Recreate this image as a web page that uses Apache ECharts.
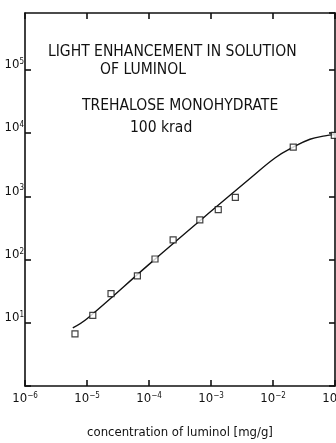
<!DOCTYPE html>
<html>
<head>
<meta charset="utf-8">
<script src="https://cdn.jsdelivr.net/npm/echarts@6/dist/echarts.min.js"></script>
<style>html,body{margin:0;padding:0;background:#fff}#c{width:336px;height:443px}</style>
</head>
<body>
<div id="c"></div>
<script>
// measured points (open squares)
const concentration = [6.4e-6, 1.24e-5, 2.44e-5, 6.5e-5, 1.25e-4, 2.45e-4, 6.6e-4, 1.31e-3, 2.47e-3, 2.12e-2, 9.75e-2];
const lightIntensity = [6.7, 13.1, 29, 55, 102, 205, 424, 615, 963, 5990, 9240];
// fitted curve
const curveConc = [5.9e-6, 1e-5, 1e-4, 1e-3, 4.3e-3, 1.09e-2, 2.12e-2, 3.95e-2, 6.9e-2, 9.75e-2];
const curveIntensity = [8.3, 11.6, 84, 580, 1930, 4080, 5990, 8000, 9040, 9460];
// tick labels (exponents of ten)
const xTickExponents = ['-6', '-5', '-4', '-3', '-2', '-1'];
const yTickExponents = ['1', '2', '3', '4', '5'];
const titleLines = ['LIGHT ENHANCEMENT IN SOLUTION', 'OF LUMINOL', 'TREHALOSE MONOHYDRATE', '100 krad'];
const xAxisTitle = 'concentration of luminol [mg/g]';

const FONT = '"Liberation Sans Narrow", "DejaVu Sans Condensed", "Liberation Sans", sans-serif';
const chart = echarts.init(document.getElementById('c'), null, {renderer: 'canvas'});

function expOf(v) { return Math.round(Math.log10(v)); }
const lineStyle = {color: '#111', width: 1.6};

chart.setOption({
  animation: false,
  backgroundColor: '#fff',
  grid: {left: 25, right: 1, top: 13, bottom: 57, containLabel: false, outerBoundsMode: 'none'},
  textStyle: {fontFamily: FONT, color: '#111'},
  xAxis: [{
    type: 'log', logBase: 10, min: 1e-6, max: 1e-1, position: 'bottom',
    axisLine: {show: true, lineStyle: lineStyle},
    axisTick: {show: true, inside: true, length: 6, lineStyle: lineStyle},
    splitLine: {show: false},
    minorTick: {show: false},
    axisLabel: {
      margin: 6, color: '#111', fontFamily: FONT, fontSize: 13,
      formatter: function (v) {
        const e = String(expOf(v));
        if (xTickExponents.indexOf(e) < 0) return '';
        return '10{s|' + e.replace('-', '\u2212') + '}';
      },
      rich: {s: {fontSize: 8, verticalAlign: 'top', padding: [0, 0, 6, 0], fontFamily: FONT, color: '#111'}}
    },
    name: xAxisTitle, nameLocation: 'middle', nameGap: 40,
    nameTextStyle: {fontFamily: FONT, fontSize: 13, color: '#111'}
  }, {
    type: 'log', logBase: 10, min: 1e-6, max: 1e-1, position: 'top',
    axisLine: {show: true, lineStyle: lineStyle},
    axisTick: {show: true, inside: true, length: 6, lineStyle: lineStyle},
    axisLabel: {show: false}, splitLine: {show: false}
  }],
  yAxis: [{
    type: 'log', logBase: 10, min: 1, max: 794328, position: 'left',
    axisLine: {show: true, lineStyle: lineStyle},
    axisTick: {show: true, inside: true, length: 6, lineStyle: lineStyle},
    splitLine: {show: false},
    axisLabel: {
      margin: 1, color: '#111', fontFamily: FONT, fontSize: 13,
      verticalAlign: 'bottom', padding: [0, 0, -2, 0],
      showMaxLabel: false,
      formatter: function (v) {
        const l = Math.log10(v);
        if (Math.abs(l - Math.round(l)) > 1e-6) return '';
        const e = String(Math.round(l));
        if (yTickExponents.indexOf(e) < 0) return '';
        return '10{s|' + e + '}';
      },
      rich: {s: {fontSize: 8, verticalAlign: 'top', padding: [0, 0, 6, 0], fontFamily: FONT, color: '#111'}}
    }
  }, {
    type: 'log', logBase: 10, min: 1, max: 794328, position: 'right',
    axisLine: {show: true, lineStyle: lineStyle},
    axisTick: {show: true, inside: true, length: 6, lineStyle: lineStyle},
    axisLabel: {show: false}, splitLine: {show: false}
  }],
  graphic: [
    {type: 'text', left: 48, top: 44, style: {text: titleLines[0], font: '15.5px ' + FONT, fill: '#111'}},
    {type: 'text', left: 100, top: 62, style: {text: titleLines[1], font: '15.5px ' + FONT, fill: '#111'}},
    {type: 'text', left: 82, top: 98, style: {text: titleLines[2], font: '15.5px ' + FONT, fill: '#111'}},
    {type: 'text', left: 130, top: 120, style: {text: titleLines[3], font: '15.5px ' + FONT, fill: '#111'}}
  ],
  series: [{
    type: 'line', xAxisIndex: 0, yAxisIndex: 0,
    data: curveConc.map((c, i) => [c, curveIntensity[i]]),
    smooth: 0.4, showSymbol: false, symbol: 'none',
    lineStyle: {color: '#111', width: 1.4}, z: 2
  }, {
    type: 'scatter', xAxisIndex: 0, yAxisIndex: 0,
    data: concentration.map((c, i) => [c, lightIntensity[i]]),
    symbol: 'rect', symbolSize: 6,
    itemStyle: {color: '#fff', borderColor: '#111', borderWidth: 1.2}, z: 3
  }]
});
</script>
</body>
</html>
